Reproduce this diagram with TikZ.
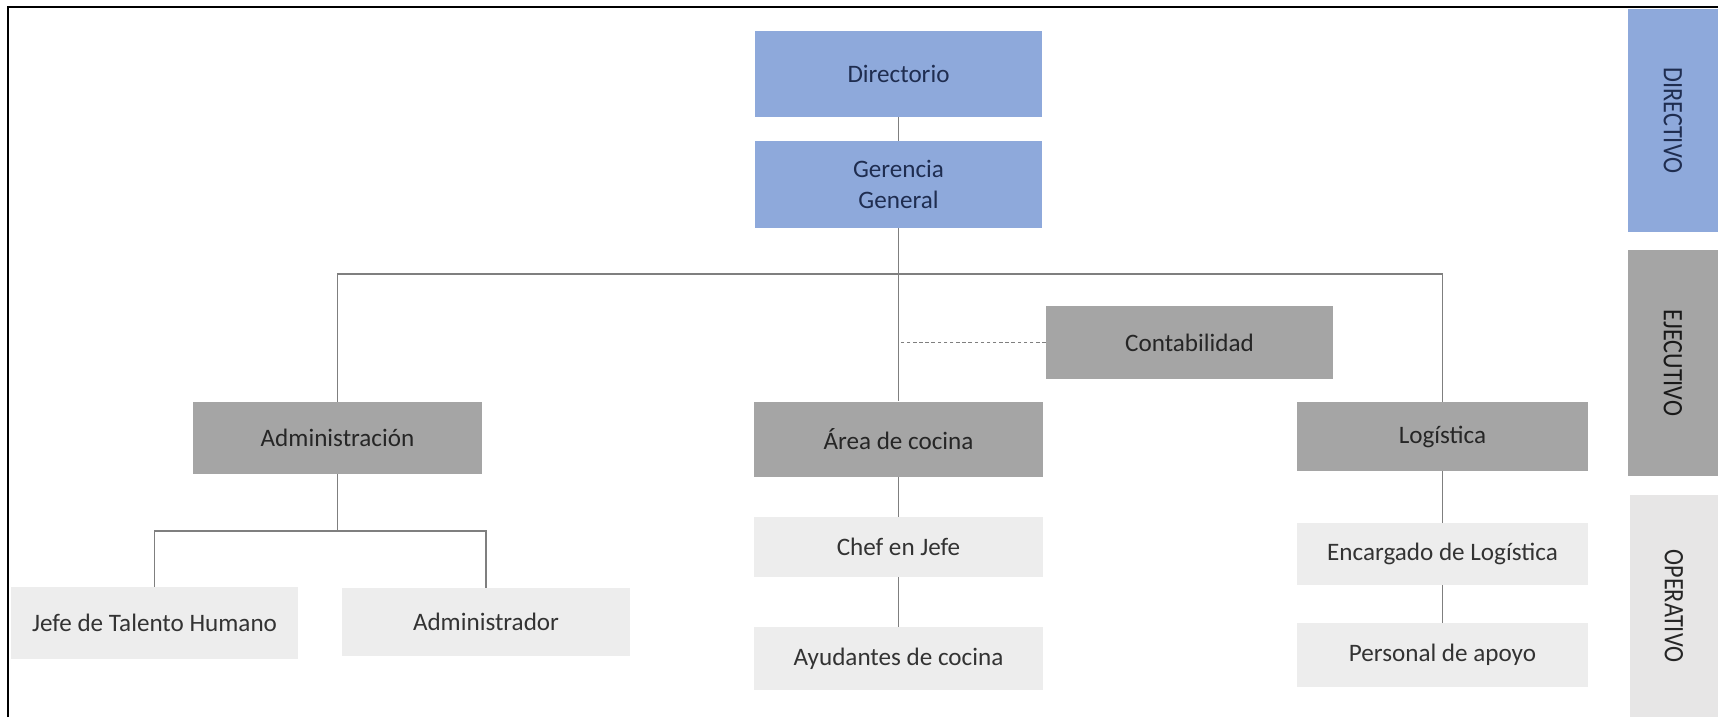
\documentclass[tikz,border=0pt]{standalone}
\usepackage{fontspec}
\setmainfont{Carlito}
\usepackage{tikz}
\usetikzlibrary{calc}

\definecolor{dirblue}{HTML}{8EA9DB}
\definecolor{dirtext}{HTML}{1F2D50}
\definecolor{ejegray}{HTML}{A5A5A5}
\definecolor{opegray}{HTML}{EDEDED}
\definecolor{opebar}{HTML}{E7E6E6}
\definecolor{linegray}{HTML}{7F7F7F}

\newcommand{\barlabel}[1]{\scalebox{0.86}[1]{#1}}

\tikzset{
  unit/.style 2 args={minimum width=#1*0.02cm, minimum height=#2*0.02cm},
  dirbox/.style={fill=dirblue, text=dirtext, inner sep=0pt, align=center,
    font=\fontsize{14.3}{17.5}\selectfont},
  ejebox/.style={fill=ejegray, text=black!85, inner sep=0pt,
    font=\fontsize{14.3}{17.5}\selectfont},
  opebox/.style={fill=opegray, text=black!80, inner sep=0pt,
    font=\fontsize{14.3}{17.5}\selectfont},
  levelbar/.style={rotate=-90, inner sep=0pt, font=\fontsize{16}{19}\selectfont},
  conn/.style={draw=linegray, line width=1pt}
}

\begin{document}
\begin{tikzpicture}[x=0.02cm, y=-0.02cm]
\useasboundingbox (0,0) rectangle (1718,717);

% frame
\draw[line width=1.6pt] (8,717) -- (8,7) -- (1718,7);

% levels
\node[levelbar, fill=dirblue, text=dirtext, unit={223}{90}] (bdir) at (1673,120.5) {\barlabel{DIRECTIVO}};
\node[levelbar, fill=ejegray, text=black!90, unit={226}{90}] (beje) at (1673,363) {\barlabel{EJECUTIVO}};
\node[levelbar, fill=opebar, text=black!85, unit={222}{88}] (bope) at (1674,606) {\barlabel{OPERATIVO}};

% directivo
\node[dirbox, unit={287}{86}] (dir) at (898.5,74) {Directorio};
\node[dirbox, unit={287}{87}] (ger) at (898.5,184.5) {Gerencia\\General};

% ejecutivo
\node[ejebox, unit={287}{73}] (cont) at (1189.5,342.5) {Contabilidad};
\node[ejebox, unit={289}{72}] (adm) at (337.5,438) {Administración};
\node[ejebox, unit={289}{75}] (coc) at (898.5,439) {Área de cocina};
\node[ejebox, unit={291}{69}] (log) at (1442.5,436.5) {Logística};

% operativo
\node[opebox, unit={287}{72}] (jefe) at (154.5,623) {Jefe de Talento Humano};
\node[opebox, unit={288}{68}] (admr) at (486,622) {Administrador};
\node[opebox, unit={289}{60}] (chef) at (898.5,547) {Chef en Jefe};
\node[opebox, unit={289}{63}] (ayud) at (898.5,658.5) {Ayudantes de cocina};
\node[opebox, unit={291}{62}] (enc) at (1442.5,554) {Encargado de Logística};
\node[opebox, unit={291}{64}] (pers) at (1442.5,655) {Personal de apoyo};

\coordinate (bus) at (898.5,274);
\coordinate (admbus) at (337.5,531);

\draw[conn] (dir) -- (ger);
\draw[conn] (ger) -- (coc);
\draw[conn] (adm.north) |- (bus) -| (log.north);
\draw[conn, dashed, dash pattern=on 2pt off 1.5pt] (cont.west) -- (cont.west -| ger.south);

\draw[conn] (adm) -- (admbus);
\draw[conn] (jefe.north) |- (admbus) -| (admr.north);
\draw[conn] (coc) -- (chef);
\draw[conn] (chef) -- (ayud);
\draw[conn] (log) -- (enc);
\draw[conn] (enc) -- (pers);

\end{tikzpicture}
\end{document}
